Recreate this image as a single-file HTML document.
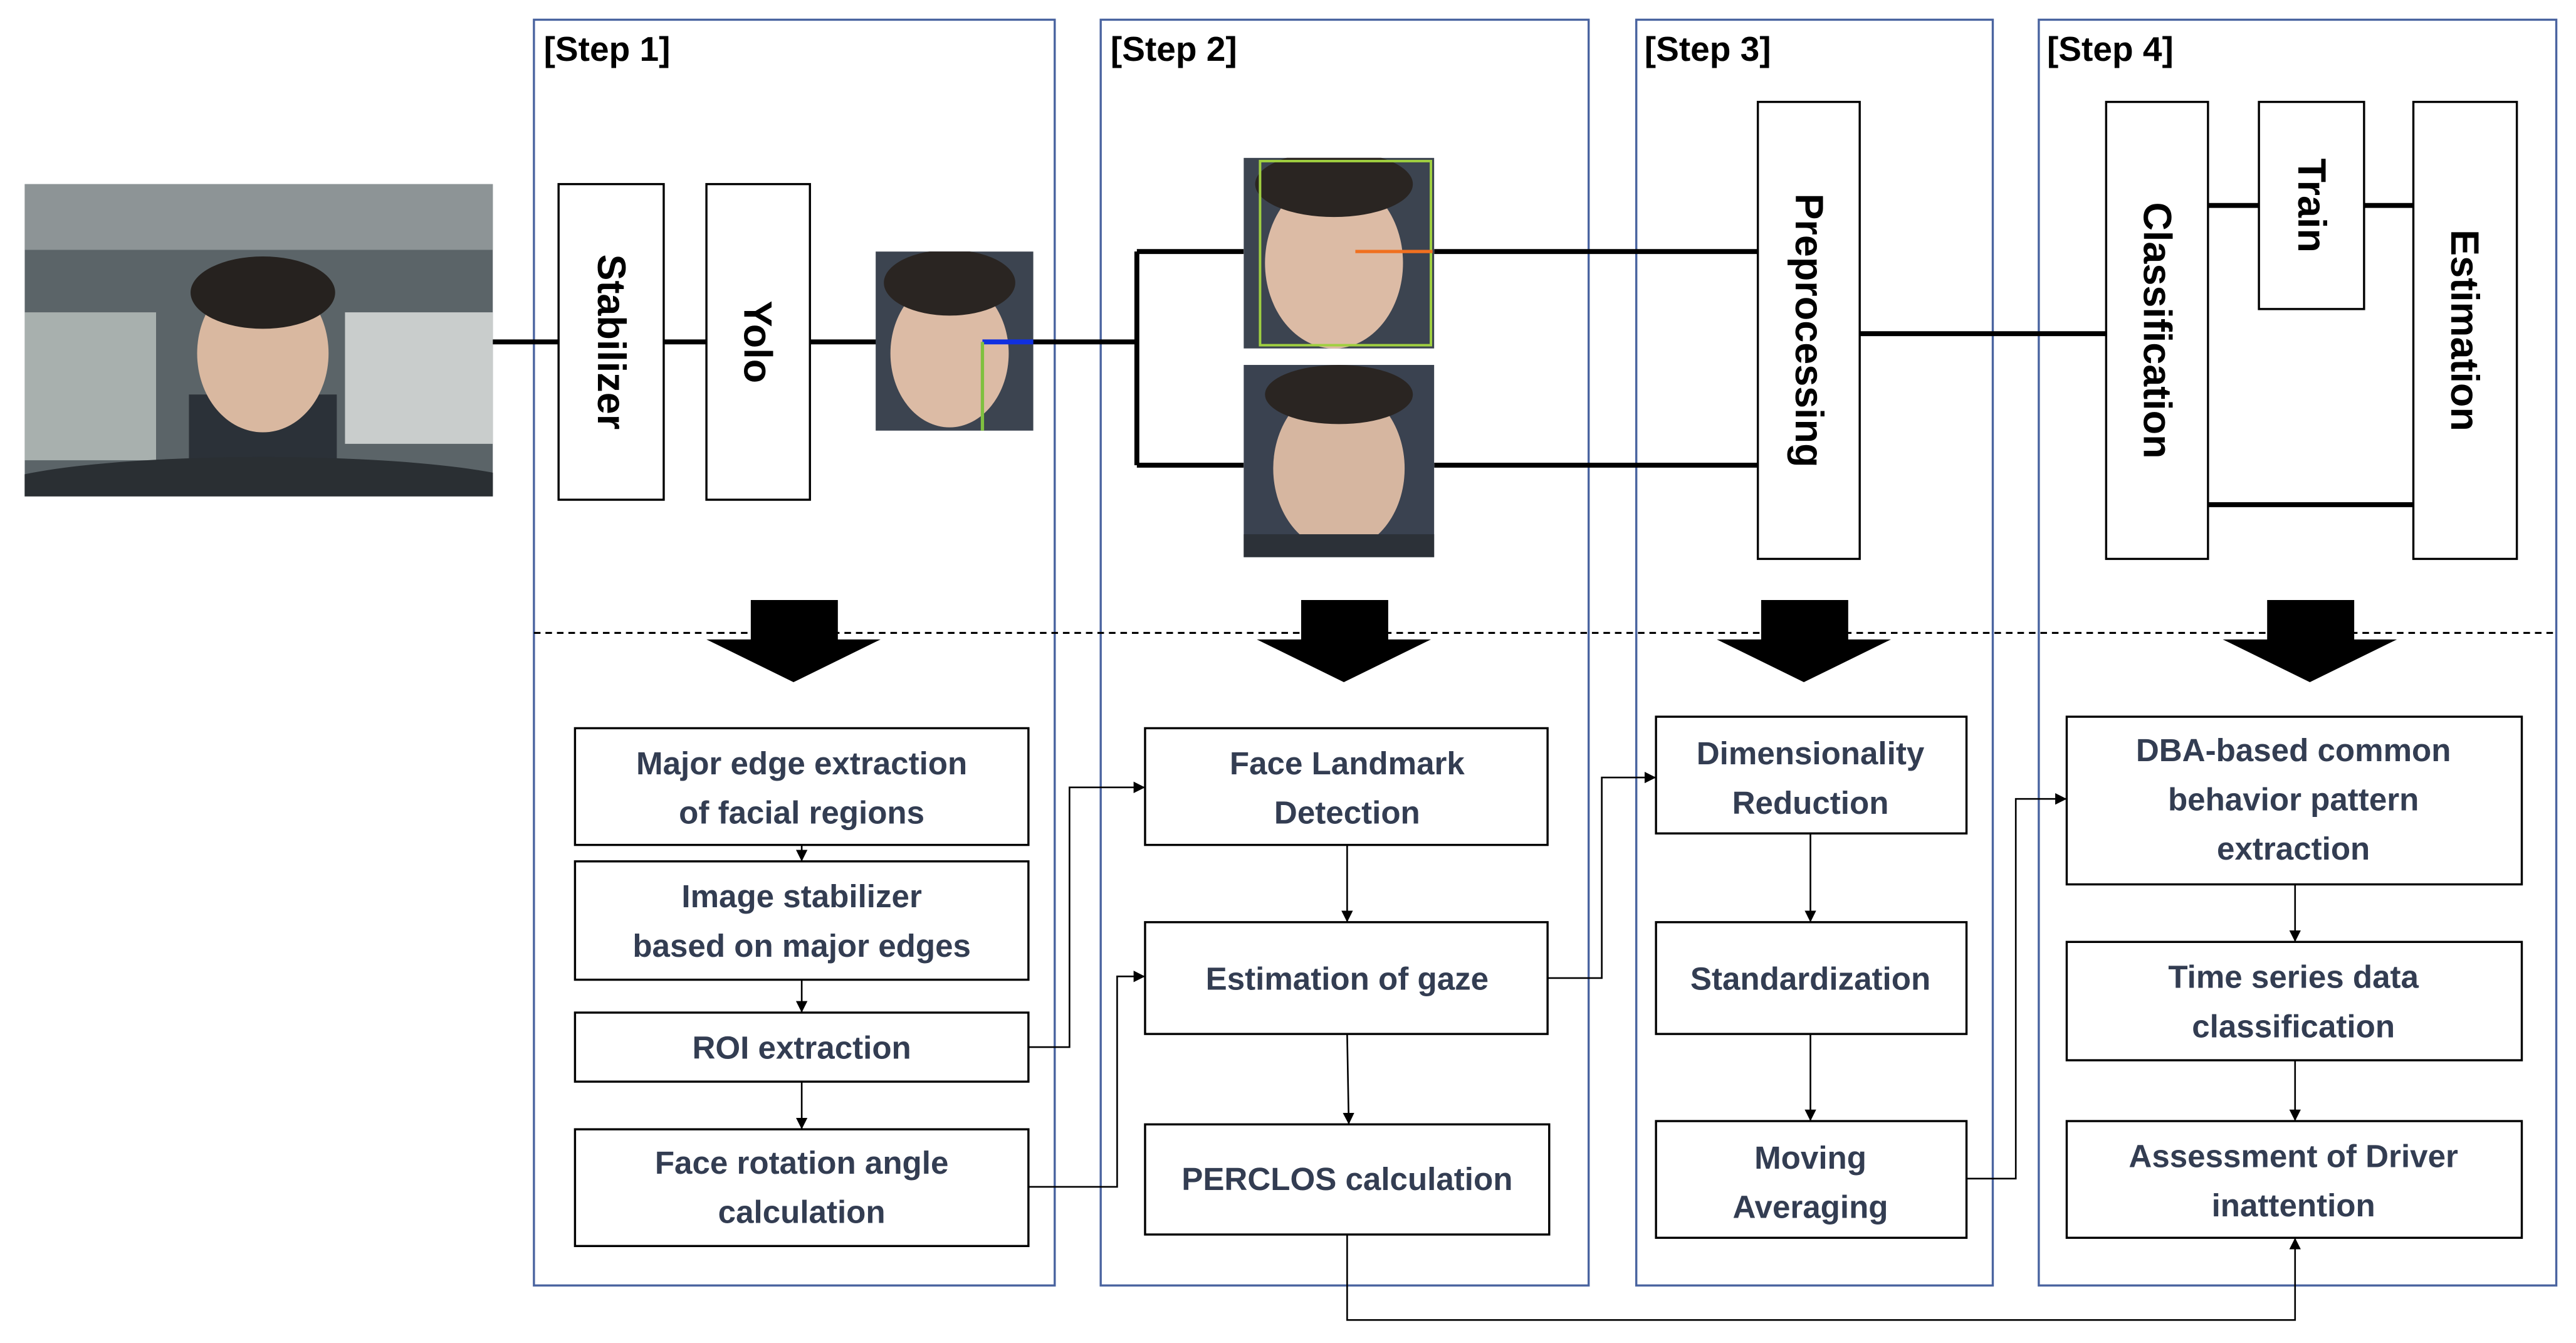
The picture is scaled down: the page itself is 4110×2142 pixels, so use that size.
<!DOCTYPE html>
<html><head><meta charset="utf-8"><style>
html,body{margin:0;padding:0;background:#fff;width:4110px;height:2142px;overflow:hidden}
svg{display:block}
text{font-family:"Liberation Sans",sans-serif;font-weight:bold}
.b{fill:#fff;stroke:#000;stroke-width:1.3}
.s{fill:none;stroke:#4a64a0;stroke-width:1.3}
.t{font-size:19.5px;fill:#333d52;text-anchor:middle}
.v{font-size:24px;fill:#000;text-anchor:middle}
.h{font-size:21px;fill:#000}
.l{stroke:#000;stroke-width:3;fill:none}
.c{stroke:#000;stroke-width:1;fill:none}
</style></head><body>
<svg width="4110" height="2142" viewBox="0 0 1568 817" preserveAspectRatio="none">
<defs><marker id="a" markerWidth="8" markerHeight="8" refX="7" refY="4" orient="auto" markerUnits="userSpaceOnUse"><path d="M0,0.5 L7,4 L0,7.5 z" fill="#000"/></marker>
<clipPath id="p"><rect x="15" y="112" width="285" height="190"/></clipPath>
<clipPath id="f1"><rect x="533" y="153" width="96" height="109"/></clipPath>
<clipPath id="f2"><rect x="757" y="96" width="116" height="116"/></clipPath>
<clipPath id="f3"><rect x="757" y="222" width="116" height="117"/></clipPath></defs>
<rect class="s" x="325" y="12" width="317" height="770"/>
<rect class="s" x="670" y="12" width="297" height="770"/>
<rect class="s" x="996" y="12" width="217" height="770"/>
<rect class="s" x="1241" y="12" width="315" height="770"/>
<text class="h" x="331" y="37">[Step 1]</text>
<text class="h" x="676" y="37">[Step 2]</text>
<text class="h" x="1001" y="37">[Step 3]</text>
<text class="h" x="1246" y="37">[Step 4]</text>
<line x1="325" y1="385" x2="1556" y2="385" stroke="#000" stroke-width="1.2" stroke-dasharray="4,3"/>
<g clip-path="url(#p)">
<rect x="15" y="112" width="285" height="190" fill="#5b6468"/>
<rect x="15" y="112" width="285" height="40" fill="#8d9496"/>
<rect x="210" y="190" width="90" height="80" fill="#c9cdcc"/>
<rect x="15" y="190" width="80" height="90" fill="#a8b0ae"/>
<rect x="115" y="240" width="90" height="50" fill="#2b3138"/>
<ellipse cx="160" cy="215" rx="40" ry="48" fill="#d9b8a0"/>
<ellipse cx="160" cy="178" rx="44" ry="22" fill="#26221f"/>
<ellipse cx="160" cy="300" rx="170" ry="22" fill="#2a2f33"/>
</g>
<path class="l" d="M300,208 H692 M692,153 V283 M692,153 H757 M692,283 H757 M873,153 H1070 M873,283 H1070 M1132,203 H1282 M1344,125 H1469 M1344,307 H1469"/>
<rect class="b" x="340" y="112" width="64" height="192"/>
<rect class="b" x="430" y="112" width="63" height="192"/>
<rect class="b" x="1070" y="62" width="62" height="278"/>
<rect class="b" x="1282" y="62" width="62" height="278"/>
<rect class="b" x="1375" y="62" width="64" height="126"/>
<rect class="b" x="1469" y="62" width="63" height="278"/>
<text class="v" transform="translate(364,208) rotate(90)">Stabilizer</text>
<text class="v" transform="translate(453,208) rotate(90)">Yolo</text>
<text class="v" transform="translate(1093,201) rotate(90)">Preprocessing</text>
<text class="v" transform="translate(1305,201) rotate(90)">Classification</text>
<text class="v" transform="translate(1399,125) rotate(90)">Train</text>
<text class="v" transform="translate(1492,201) rotate(90)">Estimation</text>
<g clip-path="url(#f1)"><rect x="533" y="153" width="96" height="109" fill="#3c4450"/><ellipse cx="578" cy="215" rx="36" ry="45" fill="#dcbba5"/><ellipse cx="578" cy="172" rx="40" ry="20" fill="#2a2522"/><line x1="598" y1="208" x2="629" y2="208" stroke="#1030e0" stroke-width="3"/><line x1="598" y1="208" x2="598" y2="262" stroke="#7fc040" stroke-width="2"/></g>
<g clip-path="url(#f2)"><rect x="757" y="96" width="116" height="116" fill="#3c4450"/><ellipse cx="812" cy="160" rx="42" ry="52" fill="#dcbba5"/><ellipse cx="812" cy="112" rx="48" ry="20" fill="#2a2522"/><rect x="767" y="98" width="104" height="112" fill="none" stroke="#a0d040" stroke-width="1.5"/><line x1="825" y1="153" x2="872" y2="153" stroke="#f07020" stroke-width="2"/></g>
<g clip-path="url(#f3)"><rect x="757" y="222" width="116" height="117" fill="#3a4250"/><ellipse cx="815" cy="285" rx="40" ry="50" fill="#d6b6a0"/><ellipse cx="815" cy="240" rx="45" ry="18" fill="#2a2522"/><rect x="757" y="325" width="116" height="14" fill="#2c3138"/></g>
<g fill="#000">
<path d="M457,365 H510 V389 H536 L483,415 L430,389 H457 Z"/>
<path d="M792,365 H845 V389 H871 L818,415 L765,389 H792 Z"/>
<path d="M1072,365 H1125 V389 H1151 L1098,415 L1045,389 H1072 Z"/>
<path d="M1380,365 H1433 V389 H1459 L1406,415 L1353,389 H1380 Z"/>
</g>
<rect class="b" x="350" y="443" width="276" height="71"/><text class="t" x="488" y="471">Major edge extraction</text><text class="t" x="488" y="501">of facial regions</text>
<rect class="b" x="350" y="524" width="276" height="72"/><text class="t" x="488" y="552">Image stabilizer</text><text class="t" x="488" y="582">based on major edges</text>
<rect class="b" x="350" y="616" width="276" height="42"/><text class="t" x="488" y="644">ROI extraction</text>
<rect class="b" x="350" y="687" width="276" height="71"/><text class="t" x="488" y="714">Face rotation angle</text><text class="t" x="488" y="744">calculation</text>
<rect class="b" x="697" y="443" width="245" height="71"/><text class="t" x="820" y="471">Face Landmark</text><text class="t" x="820" y="501">Detection</text>
<rect class="b" x="697" y="561" width="245" height="68"/><text class="t" x="820" y="602">Estimation of gaze</text>
<rect class="b" x="697" y="684" width="246" height="67"/><text class="t" x="820" y="724">PERCLOS calculation</text>
<rect class="b" x="1008" y="436" width="189" height="71"/><text class="t" x="1102" y="465">Dimensionality</text><text class="t" x="1102" y="495">Reduction</text>
<rect class="b" x="1008" y="561" width="189" height="68"/><text class="t" x="1102" y="602">Standardization</text>
<rect class="b" x="1008" y="682" width="189" height="71"/><text class="t" x="1102" y="711">Moving</text><text class="t" x="1102" y="741">Averaging</text>
<rect class="b" x="1258" y="436" width="277" height="102"/><text class="t" x="1396" y="463">DBA-based common</text><text class="t" x="1396" y="493">behavior pattern</text><text class="t" x="1396" y="523">extraction</text>
<rect class="b" x="1258" y="573" width="277" height="72"/><text class="t" x="1396" y="601">Time series data</text><text class="t" x="1396" y="631">classification</text>
<rect class="b" x="1258" y="682" width="277" height="71"/><text class="t" x="1396" y="710">Assessment of Driver</text><text class="t" x="1396" y="740">inattention</text>
<g class="c" marker-end="url(#a)">
<line x1="488" y1="514" x2="488" y2="524"/>
<line x1="488" y1="596" x2="488" y2="616"/>
<line x1="488" y1="658" x2="488" y2="687"/>
<line x1="820" y1="514" x2="820" y2="561"/>
<line x1="820" y1="629" x2="821" y2="684"/>
<line x1="1102" y1="507" x2="1102" y2="561"/>
<line x1="1102" y1="629" x2="1102" y2="682"/>
<line x1="1397" y1="538" x2="1397" y2="573"/>
<line x1="1397" y1="645" x2="1397" y2="682"/>
<path d="M626,637 H651 V479 H697"/>
<path d="M626,722 H680 V594 H697"/>
<path d="M942,595 H975 V473 H1008"/>
<path d="M1197,717 H1227 V486 H1258"/>
<path d="M820,751 V803 H1397 V753"/>
</g>
</svg>
</body></html>
